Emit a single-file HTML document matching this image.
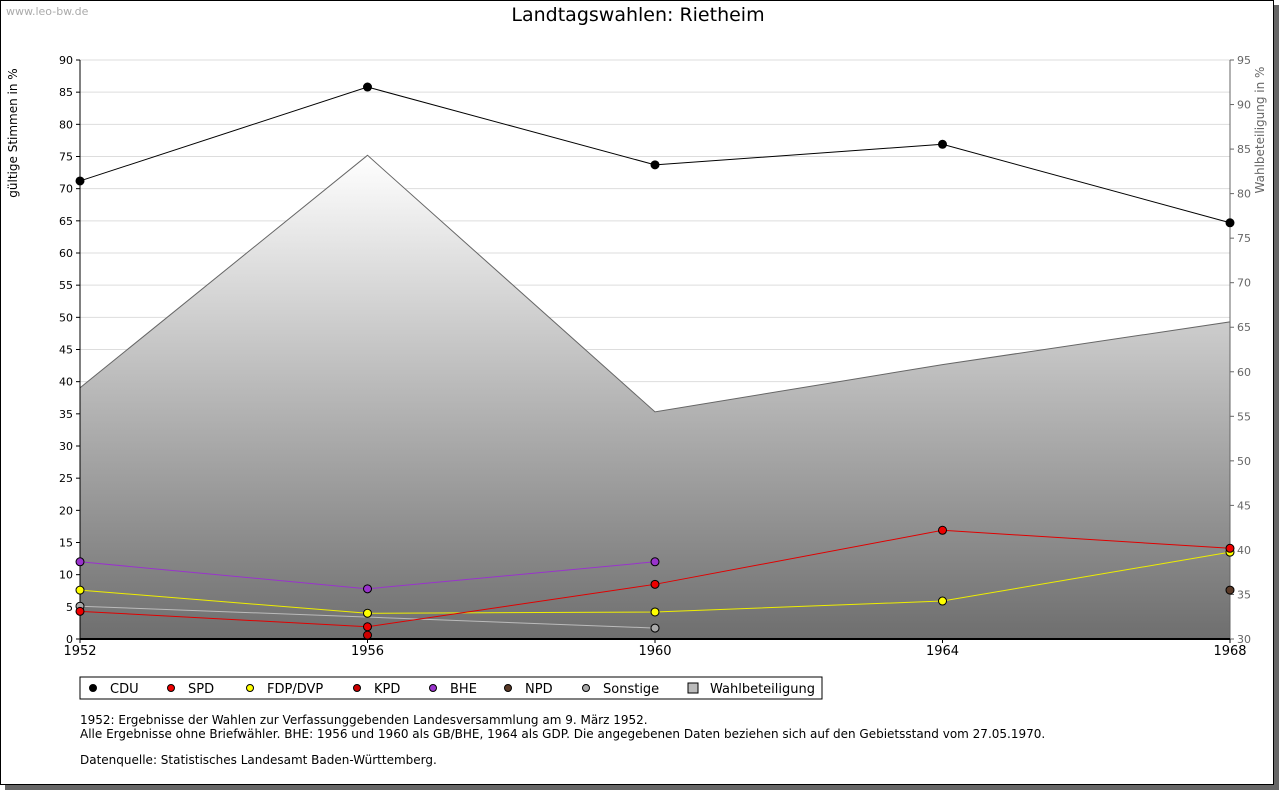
<!DOCTYPE html>
<html><head><meta charset="utf-8"><style>
body{margin:0;background:#fff;font-family:"DejaVu Sans",sans-serif}
#frame{position:absolute;left:0;top:0;width:1272px;height:783px;border:1px solid #000;box-shadow:5px 5px 0 #666;background:#fff}
</style></head><body>
<div id="frame"></div>
<svg id="c" width="1280" height="791" style="position:absolute;left:0;top:0" font-family="DejaVu Sans, sans-serif">
<defs><linearGradient id="g" x1="0" y1="0" x2="0" y2="1"><stop offset="0" stop-color="#ffffff"/><stop offset="1" stop-color="#6e6e6e"/></linearGradient></defs>
<text x="6" y="15" font-size="11" fill="#aaa">www.leo-bw.de</text>
<text x="638" y="21" font-size="19" text-anchor="middle">Landtagswahlen: Rietheim</text>
<text transform="translate(17,133) rotate(-90)" font-size="12" text-anchor="middle">gültige Stimmen in %</text>
<text transform="translate(1264,130) rotate(-90)" font-size="12" fill="#666" text-anchor="middle">Wahlbeteiligung in %</text>
<g id="grid"></g><g id="area"></g><g id="axes"></g><g id="series"></g>
<g id="legend"></g>
<text font-size="12"><tspan x="80" y="724">1952: Ergebnisse der Wahlen zur Verfassunggebenden Landesversammlung am 9. März 1952.</tspan><tspan x="80" y="738">Alle Ergebnisse ohne Briefwähler. BHE: 1956 und 1960 als GB/BHE, 1964 als GDP. Die angegebenen Daten beziehen sich auf den Gebietsstand vom 27.05.1970.</tspan><tspan x="80" y="764">Datenquelle: Statistisches Landesamt Baden-Württemberg.</tspan></text>
</svg>
<script>
const years=[1952,1956,1960,1964,1968];
const cdu=[71.2,85.8,73.7,76.9,64.7];
const spd=[4.3,1.9,8.5,16.9,14.1];
const fdp=[7.6,4.0,4.2,5.9,13.5];
const kpd=[null,0.6,null,null,null];
const bhe=[12.0,7.8,12.0,null,null];
const npd=[null,null,null,null,7.6];
const sonst=[5.1,null,1.7,null,null];
const turnout=[58.2,84.3,55.5,60.8,65.6];
const yTicks=[0,5,10,15,20,25,30,35,40,45,50,55,60,65,70,75,80,85,90];
const y2Ticks=[30,35,40,45,50,55,60,65,70,75,80,85,90,95];
const L=80,R=1230,T=60,B=639;
const X=y=>L+(y-1952)/16*(R-L);
const Y=v=>B-v/90*(B-T);
const Y2=v=>B-(v-30)/65*(B-T);
const NS="http://www.w3.org/2000/svg";
function mk(p,t,a){const e=document.createElementNS(NS,t);for(const k in a)e.setAttribute(k,a[k]);document.getElementById(p).appendChild(e);return e;}
yTicks.forEach(v=>{
 const l=mk('grid','line',{x1:L,x2:R,y1:Y(v),y2:Y(v),stroke:'#ddd'});
 
 
 const t=mk('axes','text',{x:L-7,y:Y(v)+4,'font-size':11,'text-anchor':'end'});t.textContent=v;
 
 
 mk('axes','line',{x1:L-4,x2:L,y1:Y(v),y2:Y(v),stroke:'#000'});
});
y2Ticks.forEach(v=>{
 const t=mk('axes','text',{x:R+7,y:Y2(v)+4,'font-size':11,fill:'#666'});t.textContent=v;
 
 
 mk('axes','line',{x1:R,x2:R+4,y1:Y2(v),y2:Y2(v),stroke:'#666'});
});
let d='M'+X(years[0])+','+B;years.forEach((y,i)=>d+='L'+X(y)+','+Y2(turnout[i]));d+='L'+X(years[4])+','+B+'Z';
const ar=mk('area','path',{d:d,fill:'url(#g)',stroke:'#666','stroke-width':1});


mk('axes','line',{x1:L,x2:L,y1:T,y2:B,stroke:'#000'});
mk('axes','line',{x1:R,x2:R,y1:T,y2:B,stroke:'#666'});
mk('axes','line',{x1:L,x2:R,y1:B,y2:B,stroke:'#000','stroke-width':2});
years.forEach(y=>{const t=mk('axes','text',{x:X(y),y:B+16,'font-size':13,'text-anchor':'middle'});t.textContent=y;
 
 
 mk('axes','line',{x1:X(y),x2:X(y),y1:B,y2:B+4,stroke:'#000'});});
function marker(g,cx,cy,c,r){return mk(g,'circle',{cx:cx,cy:cy,r:r||4,fill:c,stroke:'#000','stroke-width':1});}
function series(name,vals,color,mcolor){
 const pts=[];vals.forEach((v,i)=>{if(v!==null)pts.push([X(years[i]),Y(v)]);});
 if(pts.length>1){const p=mk('series','polyline',{points:pts.map(p=>p.join(',')).join(' '),fill:'none',stroke:color,'stroke-width':1});
  
  }
 pts.forEach(p=>{const m=marker('series',p[0],p[1],mcolor||color);
  
  });
}
series('sonstige',sonst,'#bbb','#aaa');
series('cdu',cdu,'#000','#000');
series('fdp',fdp,'#eeee00','#ffff00');
series('bhe',bhe,'#9933cc','#9933cc');
series('spd',spd,'#e00000','#ee0000');
series('kpd',kpd,'#bb0000','#cc0000');
series('npd',npd,'#553322','#5a3a28');
const lb=mk('legend','rect',{x:80,y:677,width:742,height:22,fill:'#fff',stroke:'#000'});


const leg=[['CDU','#000',93],['SPD','#ee0000',171],['FDP/DVP','#ffff00',250],['KPD','#cc0000',357],['BHE','#9933cc',433],['NPD','#5a3a28',508],['Sonstige','#aaa',586]];
leg.forEach(([n,c,x])=>{marker('legend',x,688,c,3.5);
 const t=mk('legend','text',{x:x+17,y:693,'font-size':13});t.textContent=n;
 
 });
mk('legend','rect',{x:688,y:683,width:10,height:10,fill:'#bbb',stroke:'#000'});
const tw=mk('legend','text',{x:710,y:693,'font-size':13});tw.textContent='Wahlbeteiligung';


</script>
</body></html>
